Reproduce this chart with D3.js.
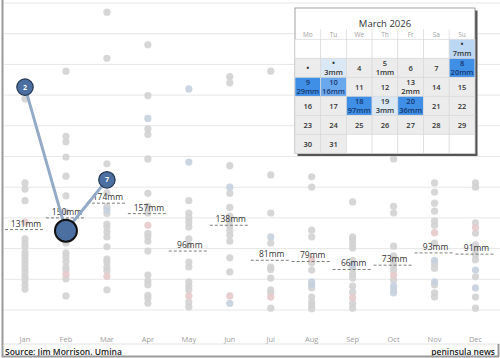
<!DOCTYPE html>
<html><head><meta charset="utf-8">
<script src="https://cdn.jsdelivr.net/npm/d3@7"></script>
<style>body{margin:0;background:#fff;}svg{display:block;font-family:"Open Sans","Liberation Sans",Arial,sans-serif;}</style>
</head><body>
<svg id="c" width="500" height="358"></svg>
<script>
// ---- data ----
const months = ["Jan","Feb","Mar","Apr","May","Jun","Jul","Aug","Sep","Oct","Nov","Dec"];
const greyDots = [
  [344,207,197,178,116,109,103,94,88,81,75,68,62,55,49,41,34],
  [389,283,274,249,218,186,160,115,109,93,86,79,70,65,51,23],
  [485,410,238,191,168,157,140,135,127,119,103,83,78,70,64,33],
  [432,349,295,286,246,190,169,158,125,119,112,96,57,47,41,24,19,11],
  [178,158,150,143,135,116,106,78,70,46,39,33,13,5],
  [380,370,235,190,167,153,145,137,129,122,112,85,62],
  [389,220,158,109,70,66,52,33,28,3],
  [217,200,130,119,77,65,36,21,13,7,2],
  [176,119,114,107,101,81,67,59,52,39,29,11,3],
  [246,169,158,104,88,81,73,65,49,33],
  [207,192,174,161,145,138,109,75,68,41,28,21],
  [207,200,142,125,106,98,90,82,54,21,3]
];
const blueDots = [[],[],[163],[312],[360,241],[200,11],[119],[46,41],[73],[39,28],[81,46],[65,36]];
const pinkDots = [[143],[58],[55],[138],[23],[23],[21],[83],[20],[57],[126],[134]];
const averages = [131,150,174,157,96,138,81,79,66,73,93,91];
const highlightMonths = ["Jan","Feb","Mar"];
const highlightValues = [363,129,212];
const highlightRanks = ["2","","7"];
const gridValues = [0,50,100,150,200,250,300,350,400,450,500];
// calendar
const calTitle = "March 2026";
const weekdays = ["Mo","Tu","We","Th","Fr","Sa","Su"];
const calDays = d3.range(1,32);
const calRain = {1:7,3:3,5:1,8:20,9:29,10:16,13:2,18:97,19:3,20:36};
const calLabels = {1:"•",2:"•",3:"•"};

// ---- chart ----
const svg = d3.select("#c");
const x = d3.scalePoint().domain(months).range([25,475.5]);
const y = d3.scaleLinear().domain([0,500]).range([310,3]);

// gridlines
svg.append("g").selectAll("line").data(gridValues).join("line")
  .attr("x1",4).attr("x2",500).attr("y1",d=>y(d)).attr("y2",d=>y(d))
  .attr("stroke","#e6e6e6").attr("stroke-width",1);
svg.append("line").attr("x1",4).attr("x2",500).attr("y1",344).attr("y2",344)
  .attr("stroke","#e2e2e2");

// month labels
svg.append("g").selectAll("text").data(months).join("text")
  .attr("x",d=>x(d)).attr("y",342).attr("text-anchor","middle")
  .attr("font-size",7.5).attr("fill","#a0a0a0").text(d=>d);

// dots
function drawDots(arr, color){
  const pts = [];
  arr.forEach((vals,i)=>vals.forEach(v=>pts.push({m:months[i],v})));
  svg.append("g").selectAll("circle").data(pts).join("circle")
    .attr("cx",d=>x(d.m)).attr("cy",d=>y(d.v)).attr("r",3.6)
    .attr("fill",color).attr("opacity",0.9);
}
drawDots(greyDots,"#d2d2d2");
drawDots(blueDots,"#c5d0df");
drawDots(pinkDots,"#e6c9c9");

// averages
const avg = svg.append("g");
avg.selectAll("line").data(averages).join("line")
  .attr("x1",(d,i)=>x(months[i])-20).attr("x2",(d,i)=>x(months[i])+20)
  .attr("y1",d=>y(d)).attr("y2",d=>y(d))
  .attr("stroke","#6e6e6e").attr("stroke-width",0.9).attr("stroke-dasharray","3,2");
avg.selectAll("text").data(averages).join("text")
  .attr("x",(d,i)=>x(months[i])+1).attr("y",d=>y(d)-3)
  .attr("text-anchor","middle").attr("font-size",8.5).attr("fill","#333")
  .text(d=>d+"mm");

// highlight path
const hl = highlightMonths.map((m,i)=>({m,v:highlightValues[i],r:highlightRanks[i]}));
svg.append("path").datum(hl)
  .attr("d",d3.line().x(d=>x(d.m)).y(d=>y(d.v)))
  .attr("fill","none").attr("stroke","#8ea6c4").attr("stroke-width",3).attr("opacity",0.95);
const hg = svg.append("g").selectAll("g").data(hl).join("g")
  .attr("transform",d=>`translate(${x(d.m)},${y(d.v)})`);
hg.append("circle").attr("r",d=>d.r?8.2:11)
  .attr("fill","#4a6fa0").attr("stroke",d=>d.r?"#22344f":"#111")
  .attr("stroke-width",d=>d.r?1.2:2);
hg.append("text").attr("text-anchor","middle").attr("dy","0.35em")
  .attr("font-size",7).attr("font-weight","bold").attr("fill","#fff").text(d=>d.r);

// ---- calendar ----
const cx0=295, cy0=8, cw=25.7, ch=19, headTop=29, rowTop=39.3;
const cal = svg.append("g");
cal.append("rect").attr("x",cx0+2.5).attr("y",cy0+2.5).attr("width",180).attr("height",145.5).attr("fill","#555");
cal.append("rect").attr("x",cx0).attr("y",cy0).attr("width",180).attr("height",145.5)
  .attr("fill","#fff").attr("stroke","#8a8a8a").attr("stroke-width",0.8);
cal.append("text").attr("x",cx0+90).attr("y",cy0+19).attr("text-anchor","middle")
  .attr("font-size",9.5).attr("fill","#333").text(calTitle);
cal.selectAll(".wd").data(weekdays).join("text").attr("class","wd")
  .attr("x",(d,i)=>cx0+cw*i+cw/2).attr("y",headTop+8).attr("text-anchor","middle")
  .attr("font-size",6.5).attr("fill","#a0a0a0").text(d=>d);
cal.selectAll(".hs").data(d3.range(1,7)).join("line").attr("class","hs")
  .attr("x1",d=>cx0+cw*d).attr("x2",d=>cx0+cw*d).attr("y1",headTop).attr("y2",rowTop)
  .attr("stroke","#e4e4e4");
const color = d3.scaleThreshold().domain([3,5,10,18])
  .range(["#ececec","#dae7f4","#bcd7f3","#6aa8ee","#3f8fe6"]);
const firstCol = 6; // March 1, 2026 is Sunday
const cells = [];
for(let r=0;r<6;r++) for(let c=0;c<7;c++){
  const idx=r*7+c-firstCol+1;
  cells.push({r,c,day:(idx>=1&&idx<=31)?idx:null});
}
const cg = cal.selectAll(".cell").data(cells).join("g").attr("class","cell")
  .attr("transform",d=>`translate(${cx0+d.c*cw},${rowTop+d.r*ch})`);
cg.append("rect").attr("width",cw).attr("height",ch)
  .attr("fill",d=>d.day?color(calRain[d.day]||0):"#fff")
  .attr("stroke","#d9d9d9").attr("stroke-width",0.7);
cg.filter(d=>d.day).append("text").attr("x",cw/2)
  .attr("y",d=>calRain[d.day]?7.8:12.5).attr("text-anchor","middle")
  .attr("font-size",d=>calLabels[d.day]?8:7.5).attr("font-weight",600)
  .attr("fill",d=>(calRain[d.day]||0)>=10?"#16376e":"#333")
  .text(d=>calLabels[d.day]||d.day);
cg.filter(d=>d.day&&calRain[d.day]).append("text").attr("x",cw/2).attr("y",16.3)
  .attr("text-anchor","middle").attr("font-size",7.5).attr("font-weight",600)
  .attr("fill",d=>calRain[d.day]>=10?"#16376e":"#333")
  .text(d=>calRain[d.day]+"mm");

// ---- footer & frame ----
svg.append("text").attr("x",5).attr("y",354.5).attr("font-size",8.5).attr("font-weight",600)
  .attr("fill","#222").text("Source: Jim Morrison. Umina");
svg.append("text").attr("x",495).attr("y",354.5).attr("text-anchor","end").attr("font-size",8.5)
  .attr("font-weight",600).attr("fill","#222").text("peninsula news");
svg.append("line").attr("x1",2.5).attr("x2",2.5).attr("y1",0).attr("y2",357).attr("stroke","#9a9a9a").attr("stroke-width",2);
svg.append("line").attr("x1",2).attr("x2",499).attr("y1",356.5).attr("y2",356.5).attr("stroke","#9a9a9a").attr("stroke-width",2);
svg.append("line").attr("x1",498.5).attr("x2",498.5).attr("y1",344).attr("y2",357).attr("stroke","#9a9a9a").attr("stroke-width",2);
</script>
</body></html>
